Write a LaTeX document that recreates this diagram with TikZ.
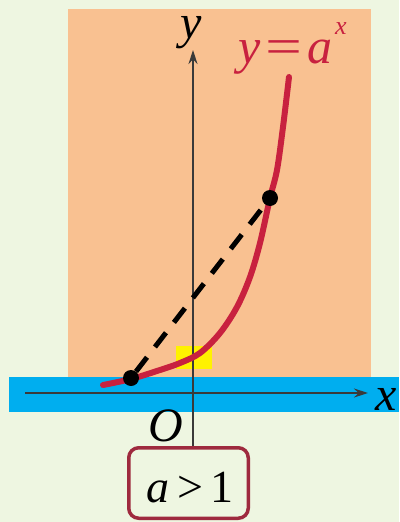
\documentclass[tikz,border=0pt]{standalone}
\usepackage{fontspec}
\setmainfont{Liberation Serif}
\usetikzlibrary{arrows.meta}
\definecolor{bg}{HTML}{EEF6E1}
\definecolor{peach}{HTML}{F9C191}
\definecolor{sky}{HTML}{00AEEF}
\definecolor{crim}{HTML}{C8213F}
\definecolor{framec}{HTML}{9E2A3E}
\definecolor{axisc}{HTML}{3A3A3A}
\begin{document}
\begin{tikzpicture}[x=1pt,y=-1pt,
  lbl/.style={inner sep=0pt, font=\fontsize{48}{48}\selectfont\itshape},
  dot/.style={circle, fill=black, inner sep=0pt, minimum size=16pt},
  axisline/.style={draw=axisc, line width=1.3pt, -{Stealth[length=14pt,width=9pt]}}]
\fill[bg] (0,0) rectangle (399,522);
\useasboundingbox (0,0) rectangle (399,522);
\fill[peach] (68,9) rectangle (371,377);
\fill[sky] (9,377) rectangle (399,412);
\fill[yellow] (176,346) rectangle (212,369);
% label box
\node[draw=framec, line width=3.5pt, rounded corners=10pt, minimum width=119.5pt, minimum height=70.5pt, inner sep=0pt, fill=bg] (box) at (188.5,483) {};
\node[anchor=base, inner sep=0pt, font=\fontsize{46}{46}\selectfont] (cond) at (190,502) {\textit{a}\,>\,1};
% axes
\coordinate (xs) at (25,393);
\coordinate (xe) at (368,393);
\coordinate (ye) at (193,50);
\draw[axisline] (xs) -- (xe);
\draw[axisline] (box.north -| ye) -- (ye);
\node[lbl, anchor=base] (ylab) at (191,38) {y};
\node[lbl, anchor=base] (xlab) at (386,410) {x};
\node[lbl, anchor=base] (olab) at (166,441) {O};
% curve
\draw[crim, line width=6pt, line cap=round] plot[smooth, tension=0.55] coordinates {(103,385) (131,379) (160,370) (180,363) (200,353) (220,333) (237,307) (250,277) (260,243) (270,198) (277,170) (283,127) (289,77)};
\node[lbl, text=crim, anchor=base west, font=\fontsize{50}{50}\selectfont\itshape] (flab) at (238,63) {y\kern1pt\scalebox{1.3}[1]{=}\kern2pt a};
\node[inner sep=0pt, text=crim, anchor=base, font=\fontsize{26}{26}\selectfont\itshape] (fsup) at (341,34) {x};
% points and chord
\node[dot] (p) at (131,378) {};
\node[dot] (q) at (270,198) {};
\draw[line width=5pt, dash pattern=on 18pt off 13pt] (p) -- (q);
\end{tikzpicture}
\end{document}
